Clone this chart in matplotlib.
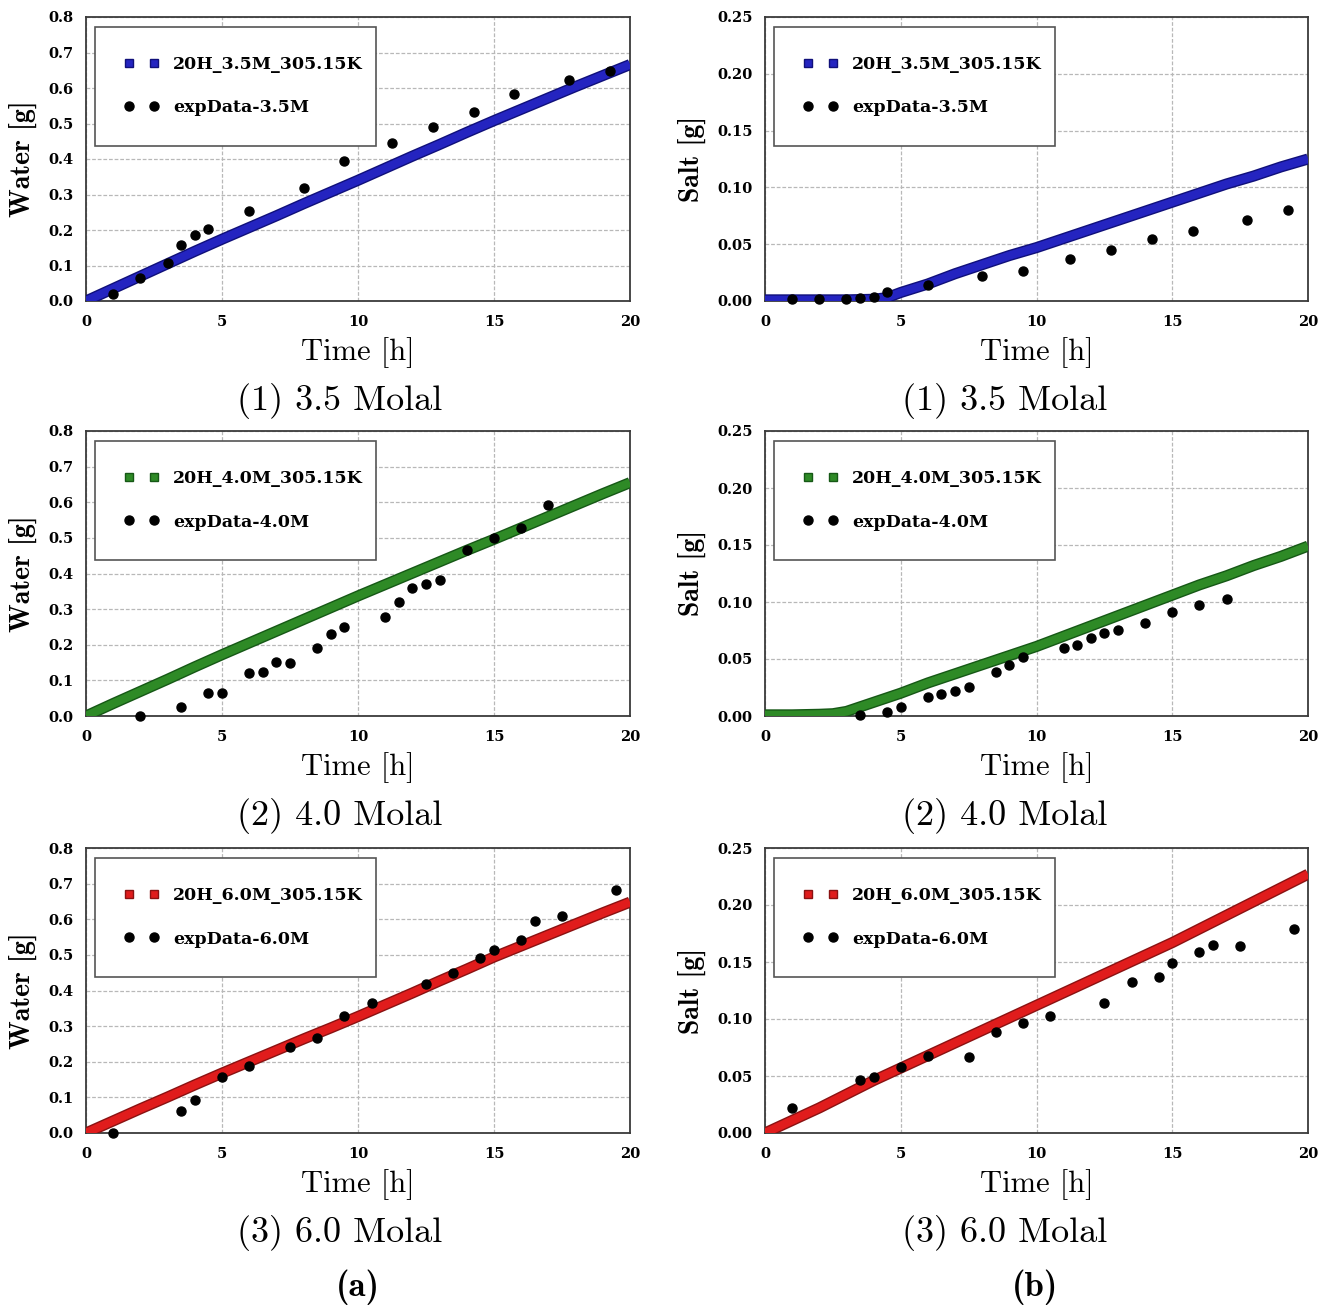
import matplotlib
matplotlib.use("Agg")
import matplotlib.pyplot as plt
import matplotlib.patheffects as pe
from matplotlib.lines import Line2D

# model curves (read every hour, 0..20 h)
t_model = list(range(21))
water_35 = [0.0, 0.035, 0.07, 0.105, 0.14, 0.174, 0.207, 0.24, 0.274, 0.307, 0.34,
            0.374, 0.408, 0.441, 0.475, 0.508, 0.54, 0.572, 0.604, 0.635, 0.666]
water_40 = [0.0, 0.035, 0.069, 0.103, 0.138, 0.172, 0.205, 0.238, 0.271, 0.304, 0.337,
            0.369, 0.401, 0.433, 0.465, 0.496, 0.528, 0.56, 0.592, 0.624, 0.655]
water_60 = [0.0, 0.034, 0.068, 0.101, 0.135, 0.168, 0.2, 0.232, 0.264, 0.295, 0.327,
            0.36, 0.393, 0.427, 0.46, 0.494, 0.525, 0.556, 0.587, 0.618, 0.648]

t_salt35 = [0, 1, 2, 3, 4, 4.5, 5, 6, 7, 8, 9, 10, 11, 12, 13, 14, 15, 16, 17, 18, 19, 20]
salt_35 = [0.001, 0.001, 0.001, 0.001, 0.0015, 0.003, 0.0075, 0.015, 0.024, 0.032, 0.04, 0.047,
           0.055, 0.063, 0.071, 0.079, 0.087, 0.095, 0.103, 0.11, 0.118, 0.125]
t_salt40 = [0, 1, 2, 2.5, 3, 4, 5, 6, 7, 8, 9, 10, 11, 12, 13, 14, 15, 16, 17, 18, 19, 20]
salt_40 = [0.001, 0.001, 0.0015, 0.002, 0.004, 0.012, 0.02, 0.029, 0.037, 0.045, 0.053, 0.061,
           0.07, 0.079, 0.088, 0.097, 0.106, 0.115, 0.123, 0.132, 0.14, 0.149]
salt_60 = [0.0, 0.011, 0.022, 0.034, 0.046, 0.057, 0.068, 0.079, 0.09, 0.101, 0.112,
           0.123, 0.134, 0.145, 0.156, 0.167, 0.179, 0.191, 0.203, 0.215, 0.227]

# experimental points
t_exp35 = [1, 2, 3, 3.5, 4, 4.5, 6, 8, 9.5, 11.25, 12.75, 14.25, 15.75, 17.75, 19.25]
wexp_35 = [0.02, 0.065, 0.107, 0.157, 0.185, 0.203, 0.254, 0.319, 0.394, 0.445, 0.49,
           0.533, 0.582, 0.623, 0.647]
sexp_35 = [0.0015, 0.002, 0.002, 0.003, 0.0035, 0.008, 0.014, 0.0216, 0.026, 0.037, 0.045,
           0.0545, 0.0618, 0.0714, 0.080]

t_wexp40 = [2, 3.5, 4.5, 5, 6, 6.5, 7, 7.5, 8.5, 9, 9.5, 11, 11.5, 12, 12.5, 13, 14, 15, 16, 17]
wexp_40 = [0.0, 0.025, 0.064, 0.064, 0.12, 0.124, 0.152, 0.149, 0.192, 0.231, 0.25, 0.278,
           0.32, 0.358, 0.37, 0.382, 0.465, 0.5, 0.527, 0.592]
t_sexp40 = [3.5, 4.5, 5, 6, 6.5, 7, 7.5, 8.5, 9, 9.5, 11, 11.5, 12, 12.5, 13, 14, 15, 16, 17]
sexp_40 = [0.001, 0.0035, 0.008, 0.0167, 0.0196, 0.022, 0.0257, 0.039, 0.0444, 0.0515, 0.0594,
           0.0626, 0.0687, 0.0728, 0.0751, 0.0819, 0.0912, 0.097, 0.103]

t_wexp60 = [1, 3.5, 4, 5, 6, 7.5, 8.5, 9.5, 10.5, 12.5, 13.5, 14.5, 15, 16, 16.5, 17.5, 19.5]
wexp_60 = [0.0, 0.0625, 0.093, 0.157, 0.188, 0.242, 0.268, 0.328, 0.366, 0.417, 0.45, 0.49,
           0.515, 0.543, 0.595, 0.608, 0.681]
t_sexp60 = [1, 3.5, 4, 5, 6, 7.5, 8.5, 9.5, 10.5, 12.5, 13.5, 14.5, 15, 16, 16.5, 17.5, 19.5]
sexp_60 = [0.022, 0.0465, 0.0488, 0.0576, 0.0674, 0.0663, 0.089, 0.0962, 0.1029, 0.1137, 0.1328,
           0.1366, 0.1488, 0.1584, 0.1645, 0.1642, 0.1788]

molal = ["3.5", "4.0", "6.0"]
colors = ["#2424c0", "#2e8a26", "#e01c1c"]
dark = ["#10107a", "#165816", "#8a1212"]

rows = [
    ((t_model, water_35), (t_exp35, wexp_35), (t_salt35, salt_35), (t_exp35, sexp_35)),
    ((t_model, water_40), (t_wexp40, wexp_40), (t_salt40, salt_40), (t_sexp40, sexp_40)),
    ((t_model, water_60), (t_wexp60, wexp_60), (t_model, salt_60), (t_sexp60, sexp_60)),
]

W, H = 1333, 1310
fig = plt.figure(figsize=(W / 100, H / 100), dpi=100)
tickfont = "DejaVu Serif"
boldcm = "cmb10"
capfont = "cmr10"

row_top = [17, 431, 848]
row_bot = [301, 716, 1133]
col_left = [86, 765]
col_right = [630, 1308]


def style(ax, ymax, ystep, fmt, ylabel):
    ax.set_xlim(0, 20)
    ax.set_ylim(0, ymax)
    ax.set_xticks([0, 5, 10, 15, 20])
    yt = [round(i * ystep, 3) for i in range(int(round(ymax / ystep)) + 1)]
    ax.set_yticks(yt)
    ax.set_yticklabels([fmt % v for v in yt])
    ax.tick_params(length=0, labelsize=10.5)
    ax.tick_params(axis="x", pad=10)
    ax.tick_params(axis="y", pad=9)
    for lab in ax.get_xticklabels() + ax.get_yticklabels():
        lab.set_fontfamily(tickfont)
        lab.set_fontweight("bold")
    ax.grid(True, color="#b8b8b8", linestyle=(0, (3, 1.5)), linewidth=0.9)
    ax.set_axisbelow(True)
    for s in ax.spines.values():
        s.set_color("#3a3a3a")
        s.set_linewidth(1.3)
    ax.set_xlabel("Time [h]", fontfamily=capfont, fontsize=22, labelpad=6)
    ax.set_ylabel(ylabel, fontfamily=boldcm, fontsize=20, labelpad=8)


for r in range(3):
    for c in range(2):
        x0 = col_left[c] / W
        w = (col_right[c] - col_left[c]) / W
        y0 = 1 - row_bot[r] / H
        h = (row_bot[r] - row_top[r]) / H
        ax = fig.add_axes([x0, y0, w, h])
        model = rows[r][2 * c]
        exp = rows[r][2 * c + 1]
        ax.plot(model[0], model[1], color=colors[r], linewidth=6, solid_capstyle="butt",
                path_effects=[pe.Stroke(linewidth=8, foreground=dark[r]), pe.Normal()], zorder=3)
        ax.plot(exp[0], exp[1], "o", color="black", markersize=6.5, zorder=4, clip_on=False)
        if c == 0:
            style(ax, 0.8, 0.1, "%.1f", "Water [g]")
        else:
            style(ax, 0.25, 0.05, "%.2f", "Salt [g]")
        handles = [
            Line2D([], [], linestyle="none", marker="s", markersize=6, color=colors[r],
                   markeredgecolor=dark[r]),
            Line2D([], [], linestyle="none", marker="o", markersize=6.5, color="black"),
        ]
        leg = ax.legend(handles, ["20H_%sM_305.15K" % molal[r], "expData-%sM" % molal[r]],
                        loc="upper left", bbox_to_anchor=(0.016, 0.965, 0.518, 0.0),
                        mode="expand", borderaxespad=0, numpoints=2, fancybox=False,
                        framealpha=1, borderpad=1.7, labelspacing=1.5, handlelength=2.0,
                        handletextpad=0.8,
                        prop={"family": tickfont, "weight": "bold", "size": 12.5})
        leg.get_frame().set_edgecolor("#555555")
        leg.get_frame().set_linewidth(1.2)
        cx = [340, 1005][c]
        fig.text(cx / W, 1 - (row_bot[r] + 100) / H, "(%d) %s Molal" % (r + 1, molal[r]),
                 ha="center", va="center", fontfamily=capfont, fontsize=26)

fig.text(358 / W, 1 - 1287 / H, "(a)", ha="center", va="center", fontfamily=boldcm, fontsize=25)
fig.text(1035 / W, 1 - 1287 / H, "(b)", ha="center", va="center", fontfamily=boldcm, fontsize=25)

fig.savefig("out.png", dpi=100)
